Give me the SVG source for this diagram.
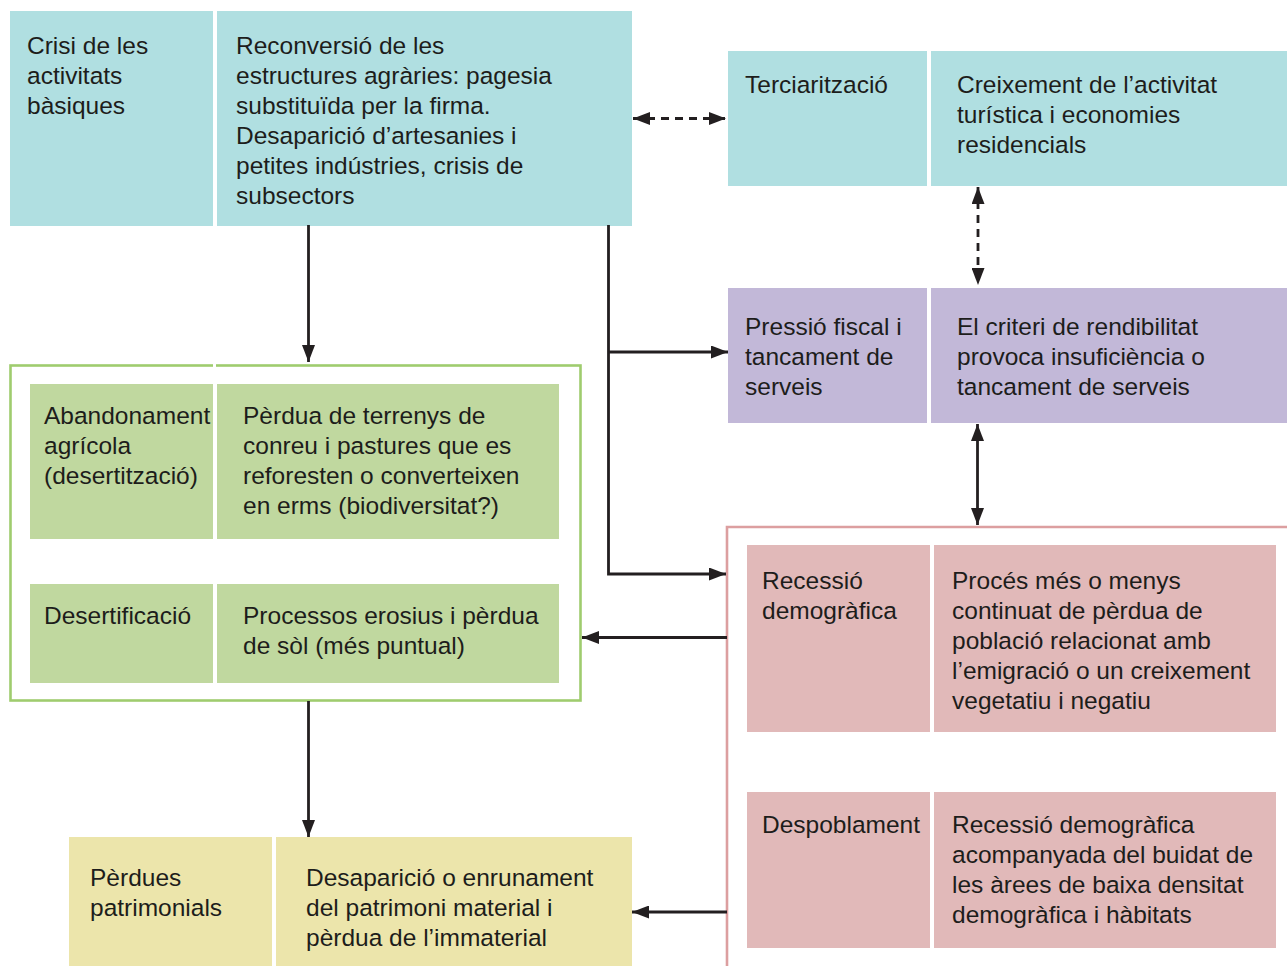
<svg xmlns="http://www.w3.org/2000/svg" width="1287" height="966" viewBox="0 0 1287 966">
<style>
text{font-family:"Liberation Sans",Arial,sans-serif;font-size:24.5px;fill:#1d1d1b}
.teal{fill:#b0dfe1}.purple{fill:#c2b8d8}.green{fill:#c0d89f}.pink{fill:#e1b9b9}.yellow{fill:#ece5ab}
.con{fill:none;stroke:#231f20;stroke-width:2.8}
.dash{stroke-dasharray:8 6}
</style>
<defs>
<marker id="ah" viewBox="0 0 17 13" refX="17" refY="6.5" markerWidth="17" markerHeight="13" markerUnits="userSpaceOnUse" orient="auto-start-reverse">
<path d="M0,0 L17,6.5 L0,13 z" fill="#231f20"/>
</marker>
</defs>
<rect width="1287" height="966" fill="#fff"/>

<g id="containers">
<rect x="10.5" y="365.5" width="570" height="335" fill="none" stroke="#9fcc6e" stroke-width="2.6"/>
<path d="M727,970 V527 H1290" fill="none" stroke="#dc9fa0" stroke-width="2.6"/>
<line x1="214.5" y1="364" x2="214.5" y2="384" stroke="#fff" stroke-width="3"/>
</g>

<g id="crisi">
<rect class="teal" x="10" y="11" width="203" height="215"/>
<rect class="teal" x="217" y="11" width="415" height="215"/>
<text x="27" y="54"><tspan x="27">Crisi de les</tspan><tspan x="27" dy="30">activitats</tspan><tspan x="27" dy="30">bàsiques</tspan></text>
<text x="236" y="54"><tspan x="236">Reconversió de les</tspan><tspan x="236" dy="30">estructures agràries: pagesia</tspan><tspan x="236" dy="30">substituïda per la firma.</tspan><tspan x="236" dy="30">Desaparició d’artesanies i</tspan><tspan x="236" dy="30">petites indústries, crisis de</tspan><tspan x="236" dy="30">subsectors</tspan></text>
</g>

<g id="terciaritzacio">
<rect class="teal" x="728" y="51" width="199" height="135"/>
<rect class="teal" x="931" y="51" width="356" height="135"/>
<text x="745" y="93">Terciarització</text>
<text x="957" y="93"><tspan x="957">Creixement de l’activitat</tspan><tspan x="957" dy="30">turística i economies</tspan><tspan x="957" dy="30">residencials</tspan></text>
</g>

<g id="pressio">
<rect class="purple" x="728" y="288" width="199" height="135"/>
<rect class="purple" x="931" y="288" width="356" height="135"/>
<text x="745" y="335"><tspan x="745">Pressió fiscal i</tspan><tspan x="745" dy="30">tancament de</tspan><tspan x="745" dy="30">serveis</tspan></text>
<text x="957" y="335"><tspan x="957">El criteri de rendibilitat</tspan><tspan x="957" dy="30">provoca insuficiència o</tspan><tspan x="957" dy="30">tancament de serveis</tspan></text>
</g>

<g id="abandonament">
<rect class="green" x="30" y="384" width="183" height="155"/>
<rect class="green" x="217" y="384" width="342" height="155"/>
<text x="44" y="424"><tspan x="44">Abandonament</tspan><tspan x="44" dy="30">agrícola</tspan><tspan x="44" dy="30">(desertització)</tspan></text>
<text x="243" y="424"><tspan x="243">Pèrdua de terrenys de</tspan><tspan x="243" dy="30">conreu i pastures que es</tspan><tspan x="243" dy="30">reforesten o converteixen</tspan><tspan x="243" dy="30">en erms (biodiversitat?)</tspan></text>
</g>

<g id="desertificacio">
<rect class="green" x="30" y="584" width="183" height="99"/>
<rect class="green" x="217" y="584" width="342" height="99"/>
<text x="44" y="624">Desertificació</text>
<text x="243" y="624"><tspan x="243">Processos erosius i pèrdua</tspan><tspan x="243" dy="30">de sòl (més puntual)</tspan></text>
</g>

<g id="recessio">
<rect class="pink" x="747" y="545" width="183" height="187"/>
<rect class="pink" x="934" y="545" width="342" height="187"/>
<text x="762" y="589"><tspan x="762">Recessió</tspan><tspan x="762" dy="30">demogràfica</tspan></text>
<text x="952" y="589"><tspan x="952">Procés més o menys</tspan><tspan x="952" dy="30">continuat de pèrdua de</tspan><tspan x="952" dy="30">població relacionat amb</tspan><tspan x="952" dy="30">l’emigració o un creixement</tspan><tspan x="952" dy="30">vegetatiu i negatiu</tspan></text>
</g>

<g id="despoblament">
<rect class="pink" x="747" y="792" width="183" height="156"/>
<rect class="pink" x="934" y="792" width="342" height="156"/>
<text x="762" y="833">Despoblament</text>
<text x="952" y="833"><tspan x="952">Recessió demogràfica</tspan><tspan x="952" dy="30">acompanyada del buidat de</tspan><tspan x="952" dy="30">les àrees de baixa densitat</tspan><tspan x="952" dy="30">demogràfica i hàbitats</tspan></text>
</g>

<g id="perdues">
<rect class="yellow" x="69" y="837" width="203" height="129"/>
<rect class="yellow" x="276" y="837" width="356" height="129"/>
<text x="90" y="886"><tspan x="90">Pèrdues</tspan><tspan x="90" dy="30">patrimonials</tspan></text>
<text x="306" y="886"><tspan x="306">Desaparició o enrunament</tspan><tspan x="306" dy="30">del patrimoni material i</tspan><tspan x="306" dy="30">pèrdua de l’immaterial</tspan></text>
</g>

<g id="connectors">
<path class="con dash" d="M633,118.5 H726" marker-start="url(#ah)" marker-end="url(#ah)"/>
<path class="con dash" d="M978,187 V285" marker-start="url(#ah)" marker-end="url(#ah)"/>
<path class="con" d="M977.5,424 V525" marker-start="url(#ah)" marker-end="url(#ah)"/>
<path class="con" d="M308.5,225 V362" marker-end="url(#ah)"/>
<path class="con" d="M608.5,225 V574 H726" marker-end="url(#ah)"/>
<path class="con" d="M608.5,352 H728" marker-end="url(#ah)"/>
<path class="con" d="M727,637.5 H582" marker-end="url(#ah)"/>
<path class="con" d="M727,912 H632" marker-end="url(#ah)"/>
<path class="con" d="M308.5,701 V837" marker-end="url(#ah)"/>
</g>
</svg>
